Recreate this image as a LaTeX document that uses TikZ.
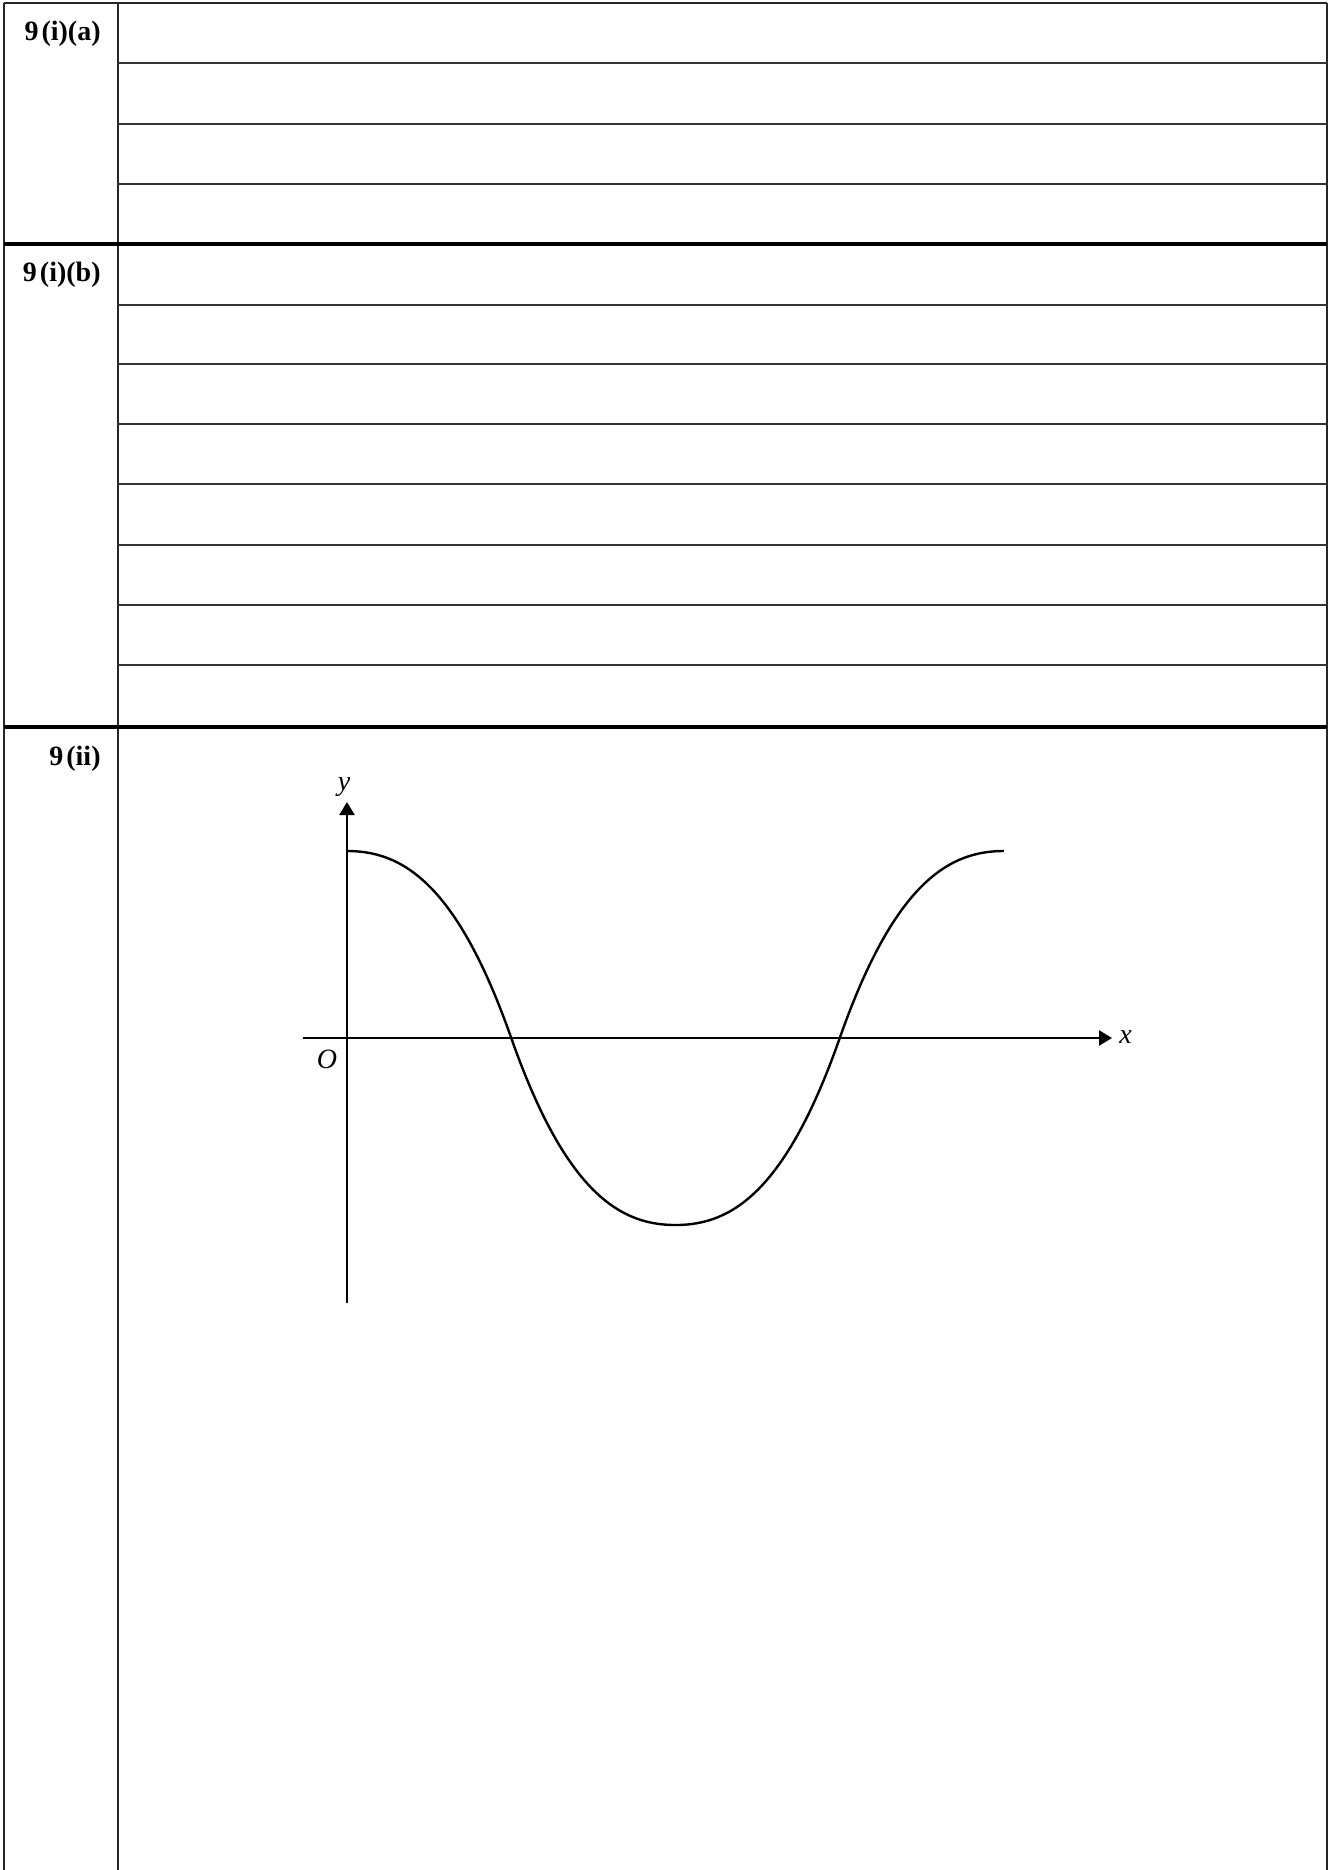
\documentclass[tikz,border=0pt]{standalone}
\usepackage{fontspec}
\setmainfont{Liberation Serif}
\usetikzlibrary{arrows.meta}
\tikzset{
  >={Triangle[length=6.5pt,width=7.5pt]},
  frameline/.style={line width=0.85pt,draw=black!85},
  rowline/.style={line width=0.8pt,draw=black!80},
  thickrule/.style={line width=2pt,draw=black},
  partlabel/.style={anchor=base east,inner sep=0pt,
                    font=\fontsize{14}{16}\selectfont\bfseries},
  axis/.style={->,line width=1.2pt},
  axislabel/.style={inner sep=0pt,font=\fontsize{14}{16}\selectfont\itshape},
  wave/.style={line width=1.2pt,line join=round}
}

\begin{document}
\begin{tikzpicture}[x=0.5pt,y=-0.5pt,
  declare function={bump(\s)=187*(1-0.5*\s*\s*(1+\s));}]
  \useasboundingbox (0,0) rectangle (1334,1870);
  % frame
  \coordinate (tl) at (4,3);
  \coordinate (tm) at (118,3);
  \coordinate (tr) at (1327,3);
  \coordinate (bl) at (4,1870);
  \coordinate (bm) at (118,1870);
  \coordinate (br) at (1327,1870);
  \draw[frameline] (tl)--(tr);
  \draw[frameline] (tl)--(bl);
  \draw[frameline] (tm)--(bm);
  \draw[frameline] (tr)--(br);

  % answer lines
  \foreach \y in {63,124,184,305,364,424,484,545,605,665}
    \draw[rowline] (118,\y)--(1327,\y);
  \draw[thickrule] (4,244)--(1327,244);
  \draw[thickrule] (4,727)--(1327,727);

  % part labels
  \node[partlabel] (parta) at (101,40) {9\kern1.5pt(i)(a)};
  \node[partlabel] (partb) at (101,281) {9\kern1.5pt(i)(b)};
  \node[partlabel] (partii) at (101,765) {9\kern1.5pt(ii)};

  % axes
  \coordinate (ybot) at (347,1303);
  \coordinate (ytop) at (347,802);
  \coordinate (xleft) at (303,1038);
  \coordinate (xright) at (1112,1038);
  \draw[axis] (ybot)--(ytop);
  \draw[axis] (xleft)--(xright);
  \node[axislabel,anchor=base] (ylab) at (344,790) {y};
  \node[axislabel,anchor=base west] (xlab) at (1119,1043) {x};
  \node[axislabel,anchor=base] (olab) at (327,1068) {O};

  % curve, one quarter at a time
  \draw[wave]
    plot[domain=0:1,samples=40,smooth] ({347+164.25*\x},{1038-bump(\x)})
    -- plot[domain=1:0,samples=40,smooth] ({675.5-164.25*\x},{1038+bump(\x)})
    -- plot[domain=0:1,samples=40,smooth] ({675.5+164.25*\x},{1038+bump(\x)})
    -- plot[domain=1:0,samples=40,smooth] ({1004-164.25*\x},{1038-bump(\x)});
\end{tikzpicture}
\end{document}
